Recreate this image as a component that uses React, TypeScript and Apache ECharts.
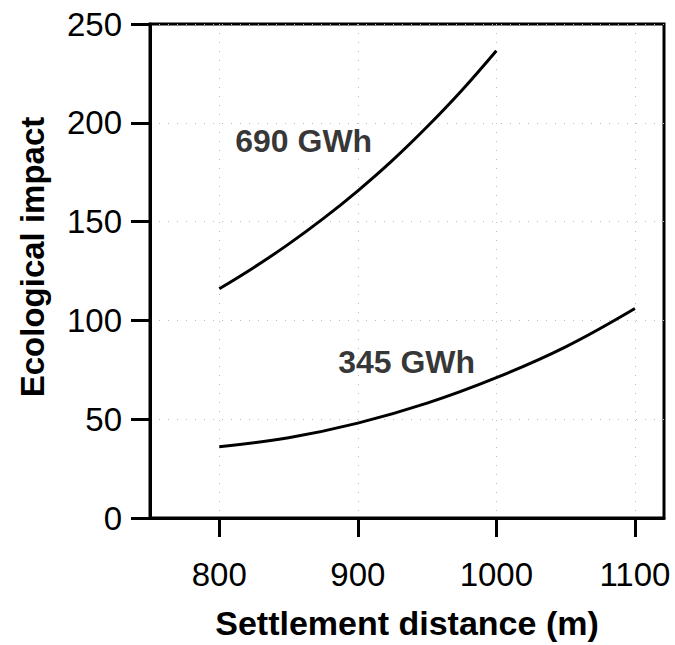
import React, { useEffect, useRef } from "react";
import * as echarts from "echarts";

// Settlement distance (m) at which each curve is sampled
const distances690 = [800, 825, 850, 875, 900, 925, 950, 975, 1000];
const impact690 = [116, 126.8, 138.6, 151.5, 165.6, 181, 198, 216.4, 236.5];

const distances345 = [800, 850, 900, 950, 1000, 1050, 1100];
const impact345 = [36, 40.6, 48, 58.1, 71, 86.6, 106];

// Tick values
const xTicks = [800, 900, 1000, 1100];
const yTicks = [0, 50, 100, 150, 200, 250];

// Curve annotations: [distance, impact, text]
const curveLabels: [number, number, string][] = [
  [811.5, 190.7, "690 GWh"],
  [885.8, 78.7, "345 GWh"],
];

const xTitle = "Settlement distance (m)";
const yTitle = "Ecological impact";

const FONT = "'Liberation Sans', Arial, Helvetica, sans-serif";

export default function App() {
  const ref = useRef<HTMLDivElement>(null);

  useEffect(() => {
    document.body.style.margin = "0";
    if (!ref.current) return;
    const chart = echarts.init(ref.current, undefined, { renderer: "svg" });

    const gridLine = {
      show: true,
      lineStyle: { color: "#bdbdbd", width: 1, type: [1, 8] as any },
    };

    chart.setOption({
      animation: false,
      backgroundColor: "#ffffff",
      textStyle: { fontFamily: FONT },
      grid: {
        left: 150,
        right: 11,
        top: 24,
        bottom: 119,
        show: true,
        borderColor: "#000",
        borderWidth: 3,
        backgroundColor: "transparent",
      },
      // vertical axis title, set a little above the plot's middle
      graphic: [
        {
          type: "text",
          x: 32,
          y: 257,
          rotation: Math.PI / 2,
          style: {
            text: yTitle,
            fill: "#000",
            fontSize: 33,
            fontWeight: "bold",
            fontFamily: FONT,
            align: "center",
            verticalAlign: "middle",
          },
        },
      ],
      xAxis: {
        type: "value",
        min: 750,
        max: 1121,
        name: xTitle,
        nameLocation: "middle",
        nameGap: 88,
        nameTextStyle: {
          color: "#000",
          fontSize: 34,
          fontWeight: "bold",
          fontFamily: FONT,
        },
        axisLine: { show: true, onZero: false, lineStyle: { color: "#000", width: 3 } },
        axisTick: {
          show: true,
          inside: false,
          length: 19,
          customValues: xTicks,
          lineStyle: { color: "#000", width: 3 },
        },
        axisLabel: {
          show: true,
          customValues: xTicks,
          margin: 40,
          color: "#000",
          fontSize: 33,
          fontFamily: FONT,
          formatter: (v: number) => String(v),
        },
        splitLine: gridLine,
      },
      yAxis: {
        type: "value",
        min: 0,
        max: 250,
        interval: 50,
        axisLine: { show: true, onZero: false, lineStyle: { color: "#000", width: 3 } },
        axisTick: {
          show: true,
          inside: false,
          length: 19,
          lineStyle: { color: "#000", width: 3 },
        },
        axisLabel: {
          show: true,
          margin: 28,
          color: "#000",
          fontSize: 33,
          fontFamily: FONT,
          formatter: (v: number) => (yTicks.includes(v) ? String(v) : ""),
        },
        splitLine: gridLine,
      },
      series: [
        {
          name: "690 GWh",
          type: "line",
          data: distances690.map((d, i) => [d, impact690[i]]),
          smooth: 0.4,
          showSymbol: false,
          lineStyle: { color: "#000", width: 3 },
        },
        {
          name: "345 GWh",
          type: "line",
          data: distances345.map((d, i) => [d, impact345[i]]),
          smooth: 0.4,
          showSymbol: false,
          lineStyle: { color: "#000", width: 3 },
        },
        {
          type: "scatter",
          symbolSize: 0,
          data: curveLabels.map(([x, y, t]) => ({ value: [x, y], name: t })),
          label: {
            show: true,
            position: "right",
            distance: 0,
            formatter: (p: any) => p.name,
            color: "#000",
            fontSize: 32,
            fontWeight: "bold",
            fontFamily: FONT,
          },
          silent: true,
        },
      ],
    });

    return () => chart.dispose();
  }, []);

  return <div ref={ref} style={{ width: 675, height: 645 }} />;
}
